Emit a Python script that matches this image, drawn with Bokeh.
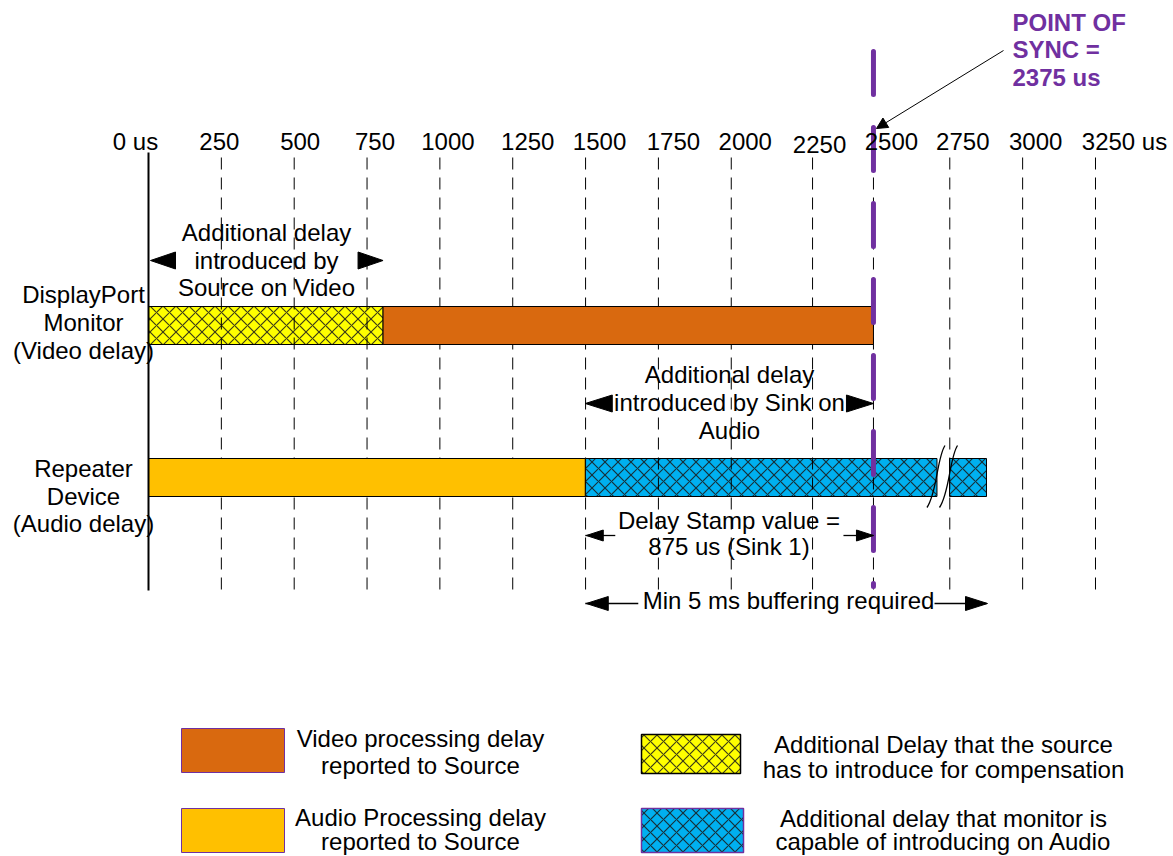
from bokeh.plotting import figure
from bokeh.models import Range1d, Arrow, NormalHead
from bokeh.core.properties import value
from bokeh.embed import file_html
from bokeh.resources import INLINE

# ---------------- data (microseconds, as drawn) ----------------
tick_positions = [0, 250, 500, 750, 1000, 1250, 1500, 1750, 2000, 2279, 2488, 2750, 3000, 3250]
tick_labels = ["0 us", "250", "500", "750", "1000", "1250", "1500", "1750", "2000",
               "2250", "2500", "2750", "3000", "3250 us"]
tick_label_shift_px = [-13, -2, 6, 8, 8, 15, 14, 15, 14, 7, 18, 13, 13, 29]

sync_point_text = 2375          # value written in the callout
sync_drawn = 2488               # where the sync line is drawn

row_names = [["DisplayPort", "Monitor", "(Video delay)"],
             ["Repeater", "Device", "(Audio delay)"]]

# video row
video_extra_start, video_extra_end = [0], [805]          # additional delay by source (hatched yellow)
video_proc_start, video_proc_end = [805], [2488]          # video processing delay (orange)
# audio row
audio_proc_start, audio_proc_end = [0], [1499]            # audio processing delay
audio_extra_start, audio_extra_end = [1499, 2749], [2706, 2876]  # extra delay sink can add (broken bar)

legend_texts = [["Video processing delay", "reported to Source"],
                ["Audio Processing delay", "reported to Source"],
                ["Additional Delay that the source", "has to introduce for compensation"],
                ["Additional delay that monitor is", "capable of introducing on Audio"]]

# ---------------- styling / layout ----------------
ORANGE = "#D9690F"
GOLD = "#FFC000"
YELLOW = "#FFFF00"
BLUE = "#00B0F0"
PURPLE = "#7030A0"
FONT = value("Liberation Sans")

K = 0.29138      # px per us
X0 = 148         # page px of 0 us


def ux(px):
    return (px - X0) / K


W, H = 1173, 856
p = figure(width=W, height=H, output_backend="svg", toolbar_location=None,
           x_axis_type=None, y_axis_type=None, min_border=0,
           x_range=Range1d(ux(0), ux(W)), y_range=Range1d(H, 0))
p.outline_line_color = None
p.background_fill_color = "white"
p.border_fill_color = "white"

hatch = dict(hatch_pattern="diagonal_cross", hatch_scale=13, hatch_color="#1a1a1a",
             hatch_alpha=0.85, hatch_weight=1.2)

VT, VB = 306, 344     # video bar top/bottom (page px)
AT, AB = 458, 496     # audio bar top/bottom

# hatched bars (grid shows through)
p.quad(left=video_extra_start, right=video_extra_end, top=VT, bottom=VB,
       fill_color=YELLOW, line_color="black", line_width=1, **hatch)
p.quad(left=audio_extra_start, right=audio_extra_end, top=AT, bottom=AB,
       fill_color=BLUE, line_color="black", line_width=1, **hatch)

# dashed grid
grid_x = tick_positions[1:]
p.segment(x0=grid_x, x1=grid_x, y0=[157] * len(grid_x), y1=[590] * len(grid_x),
          line_color="black", line_width=1, line_dash="12 8")

# solid bars
p.quad(left=video_proc_start, right=video_proc_end, top=VT, bottom=VB,
       fill_color=ORANGE, line_color="black", line_width=1)
p.quad(left=audio_proc_start, right=audio_proc_end, top=AT, bottom=AB,
       fill_color=GOLD, line_color="black", line_width=1)

# break marks on the audio extra bar
b1 = audio_extra_end[0]
b2 = audio_extra_start[1]
for b in (b1, b2):
    p.bezier(x0=[b - 10 / K], y0=[507], x1=[b + 8 / K], y1=[445],
             cx0=[b], cy0=[493], cx1=[b], cy1=[457], line_color="black", line_width=1.3)

# zero axis line
p.segment(x0=[0], x1=[0], y0=[152], y1=[590], line_color="black", line_width=2)

# sync line
p.segment(x0=[sync_drawn], x1=[sync_drawn], y0=[51], y1=[586], line_color=PURPLE,
          line_width=5, line_dash="43 33", line_cap="round")

# tick labels
lx = [t + s / K for t, s in zip(tick_positions, tick_label_shift_px)]
ly = [141] * len(lx)
ly[9] = 144
p.text(x=lx, y=ly, text=tick_labels, text_font=FONT, text_font_size="24px",
       text_align="center", text_baseline="middle", text_color="black")

# callout
p.text(x=[ux(1012)] * 3, y=[22, 49, 77], text=["POINT OF", "SYNC =", f"{sync_point_text} us"],
       text_font=FONT, text_font_size="24px", text_font_style="bold",
       text_align="left", text_baseline="middle", text_color=PURPLE)
p.add_layout(Arrow(end=NormalHead(size=11, fill_color="black", line_color="black", line_width=1),
                   x_start=ux(1003), y_start=50, x_end=sync_drawn + 3 / K, y_end=128,
                   line_color="black", line_width=1))

# row labels
p.text(x=[ux(83)] * 6, y=[294, 322, 350, 468, 495.5, 523],
       text=row_names[0] + row_names[1], text_font=FONT, text_font_size="24px",
       text_align="center", text_baseline="middle", text_color="black")

# annotations
ann_x = [ux(266)] * 3 + [ux(729)] * 3 + [ux(728.5)] * 2 + [ux(788)]
ann_y = [231.5, 259.5, 287, 374, 402, 430, 520, 546, 600]
ann_t = ["Additional delay", "introduced by", "Source on Video",
         "Additional delay", "introduced by Sink on", "Audio",
         "Delay Stamp value =", "875 us (Sink 1)",
         "Min 5 ms buffering required"]
p.text(x=ann_x, y=ann_y, text=ann_t, text_font=FONT, text_font_size="24px",
       text_align="center", text_baseline="middle", text_color="black")


def head(tip, y, length, height, direction):
    base = tip - direction * length / K
    return [tip, base, base], [y, y - height / 2, y + height / 2]


heads = [
    head(video_extra_start[0] + 2 / K, 260, 25, 17, -1),
    head(video_extra_end[0], 260, 25, 17, 1),
    head(audio_proc_end[0], 403, 27, 17, -1),
    head(sync_drawn, 403, 27, 17, 1),
    head(audio_proc_end[0] + 1 / K, 535, 17, 11, -1),
    head(sync_drawn, 535, 17, 11, 1),
    head(audio_proc_end[0] + 1 / K, 603, 22, 14, -1),
    head(audio_extra_end[-1] + 1 / K, 603, 22, 14, 1),
]
p.patches(xs=[h[0] for h in heads], ys=[h[1] for h in heads],
          fill_color="black", line_color="black", line_width=1)
p.segment(x0=[audio_proc_end[0], sync_drawn - 30 / K, audio_proc_end[0], audio_extra_end[-1] - 52 / K],
          x1=[audio_proc_end[0] + 30 / K, sync_drawn, audio_proc_end[0] + 53 / K, audio_extra_end[-1]],
          y0=[535, 535, 603, 603], y1=[535, 535, 603, 603],
          line_color="black", line_width=1.3)

# legend
p.quad(left=[ux(181)], right=[ux(284)], top=[728], bottom=[772],
       fill_color=ORANGE, line_color=PURPLE, line_width=1)
p.quad(left=[ux(181)], right=[ux(284)], top=[808], bottom=[852],
       fill_color=GOLD, line_color=PURPLE, line_width=1)
p.quad(left=[ux(641)], right=[ux(740)], top=[734], bottom=[773],
       fill_color=YELLOW, line_color="black", line_width=1.5, **hatch)
p.quad(left=[ux(641)], right=[ux(743)], top=[808], bottom=[852],
       fill_color=BLUE, line_color=PURPLE, line_width=1.5, **hatch)

p.text(x=[ux(420)] * 4, y=[738, 765, 817, 841],
       text=legend_texts[0] + legend_texts[1], text_font=FONT, text_font_size="24px",
       text_align="center", text_baseline="middle", text_color="black")
p.text(x=[ux(943)] * 4, y=[743.5, 769, 818, 841],
       text=legend_texts[2] + legend_texts[3], text_font=FONT, text_font_size="24px",
       text_align="center", text_baseline="middle", text_color="black")

open("out.html", "w").write(file_html(p, INLINE))
